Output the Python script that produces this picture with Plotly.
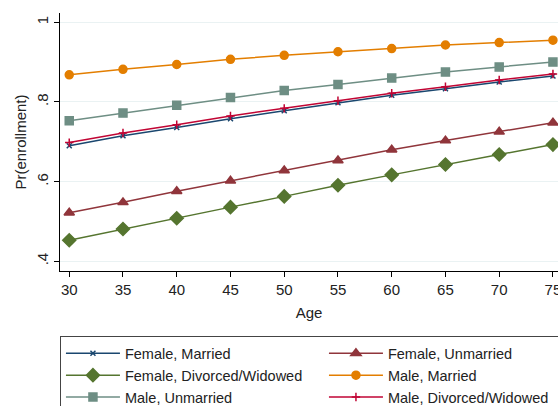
import plotly.graph_objects as go

# Predicted probability of enrollment by age, one series per sex / marital status group
ages = [30, 35, 40, 45, 50, 55, 60, 65, 70, 75]

female_married = [0.690, 0.715, 0.736, 0.758, 0.778, 0.798, 0.817, 0.833, 0.850, 0.865]
female_unmarried = [0.522, 0.548, 0.576, 0.602, 0.628, 0.653, 0.680, 0.703, 0.725, 0.748]
female_divwid = [0.453, 0.481, 0.508, 0.536, 0.563, 0.591, 0.617, 0.643, 0.668, 0.693]
male_married = [0.868, 0.882, 0.894, 0.907, 0.917, 0.926, 0.934, 0.943, 0.949, 0.955]
male_unmarried = [0.753, 0.772, 0.792, 0.811, 0.829, 0.844, 0.860, 0.875, 0.888, 0.900]
male_divwid = [0.698, 0.722, 0.743, 0.765, 0.784, 0.803, 0.822, 0.838, 0.855, 0.870]

y_ticks = [0.4, 0.6, 0.8, 1.0]
y_tick_labels = [".4", ".6", ".8", "1"]
x_ticks = [30, 35, 40, 45, 50, 55, 60, 65, 70, 75]

series = [
    ("Female, Married", female_married, "#1a476f", "x-thin", 5),
    ("Female, Unmarried", female_unmarried, "#90353b", "triangle-up", 9),
    ("Female, Divorced/Widowed", female_divwid, "#55752f", "diamond", 10),
    ("Male, Married", male_married, "#e37e00", "circle", 8),
    ("Male, Unmarried", male_unmarried, "#6e8e84", "square", 8),
    ("Male, Divorced/Widowed", male_divwid, "#c10534", "cross-thin", 6),
]

fig = go.Figure()
for name, vals, color, symbol, size in series:
    fig.add_trace(go.Scatter(
        x=ages, y=vals, name=name, mode="lines+markers",
        line=dict(color=color, width=1.5),
        marker=dict(symbol=symbol, size=size, color=color,
                    line=dict(color=color, width=1.5)),
        cliponaxis=False,
    ))

fig.update_layout(
    width=558, height=406,
    margin=dict(l=60, r=0, t=13, b=135, autoexpand=False),
    paper_bgcolor="white", plot_bgcolor="white",
    font=dict(family="Liberation Sans, Arial, sans-serif", size=15, color="#222222"),
    showlegend=True,
    legend=dict(
        orientation="h",
        x=-0.0001, y=-0.2535, xanchor="left", yanchor="top",
        entrywidth=194, entrywidthmode="pixels", itemwidth=54,
        bordercolor="#444444", borderwidth=1,
        font=dict(size=14.5), tracegroupgap=0,
    ),
)
fig.update_xaxes(
    range=[29.14, 75.47], tickvals=x_ticks, automargin=False,
    ticklabeloverflow="allow",
    showline=True, linecolor="black", linewidth=1,
    ticks="outside", ticklen=5, tickcolor="black",
    showgrid=False, zeroline=False,
    title=dict(text="Age", font=dict(size=15), standoff=10),
    tickfont=dict(size=15),
)
fig.update_yaxes(
    range=[0.3757, 1.0233], tickvals=y_ticks, ticktext=y_tick_labels,
    tickangle=-90, automargin=False,
    showline=True, linecolor="black", linewidth=1,
    ticks="outside", ticklen=5, tickcolor="black",
    showgrid=True, gridcolor="#eaf2f3", gridwidth=1, zeroline=False,
    title=dict(text="Pr(enrollment)", font=dict(size=15), standoff=3),
    tickfont=dict(size=15),
)

fig.write_html("out.html")
